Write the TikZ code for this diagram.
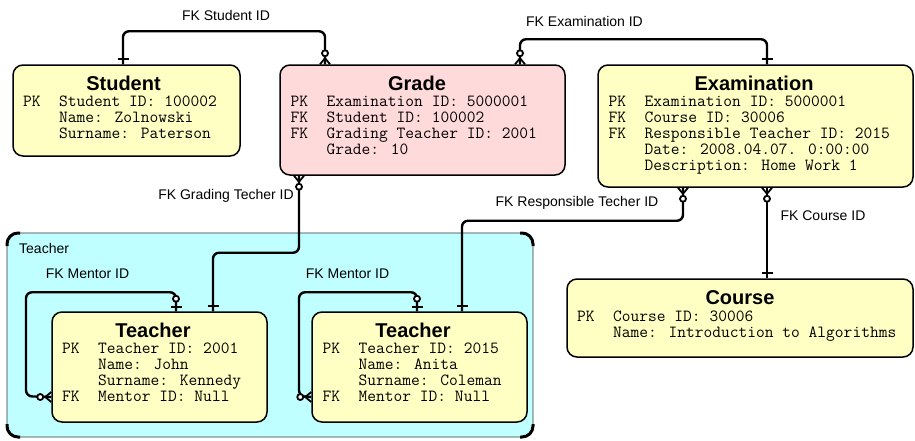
\documentclass[tikz,border=0pt]{standalone}
\usepackage{fontspec}
\setmainfont{Liberation Sans}
\usetikzlibrary{calc}

\definecolor{entyellow}{RGB}{255,255,196}
\definecolor{entpink}{RGB}{255,218,218}
\definecolor{grpcyan}{RGB}{192,255,255}

% fixed-width key column (PK / FK / blank)
\newcommand\keycol[1]{\makebox[36pt][l]{#1}}
% attribute block: first baseline is the block's baseline
\newcommand\attrs[1]{\begin{tabular}[t]{@{}l@{}}#1\end{tabular}}

\tikzset{
  entity/.style={draw, line width=1.5pt, rounded corners=10pt, inner sep=0pt},
  etitle/.style={anchor=base, inner sep=0pt, font=\fontsize{20}{22}\selectfont\bfseries},
  eattr/.style={anchor=base west, inner sep=0pt, font=\ttfamily\fontsize{17}{16}\selectfont},
  rellabel/.style={inner sep=0pt, font=\fontsize{14}{16}\selectfont},
  conn/.style={line width=2.4pt, rounded corners=6pt},
  cardmark/.style={line width=1.8pt},
  pics/onebar/.style={code={
    \draw[cardmark] (5,-5.5) -- (5,5.5);
  }},
  pics/zeromany/.style={code={
    \draw[cardmark] (0,-5) -- (6,0) -- (0,5);
    \draw[cardmark] (0,0) -- (6,0);
    \draw[cardmark, fill=white] (11,0) circle (3pt);
  }},
  pics/zeroone/.style={code={
    \draw[cardmark] (4,-5.5) -- (4,5.5);
    \draw[cardmark, fill=white] (12.5,0) circle (3pt);
  }},
}

\begin{document}
\begin{tikzpicture}[x=1pt, y=-1pt]
\useasboundingbox (0,0) rectangle (915,440);

% Teacher group frame with heavy corner marks
\node[draw=black!80, line width=0.8pt, fill=grpcyan, rounded corners=11pt,
      minimum width=526pt, minimum height=204pt, inner sep=0pt] (group) at (270,335) {};
\draw[line width=3pt, rounded corners=11pt] (7,246) -- (7,233) -- (20,233);
\draw[line width=3pt, rounded corners=11pt] (520,233) -- (533,233) -- (533,246);
\draw[line width=3pt, rounded corners=11pt] (7,424) -- (7,437) -- (20,437);
\draw[line width=3pt, rounded corners=11pt] (520,437) -- (533,437) -- (533,424);
\node[rellabel, anchor=west] (grouplabel) at (19,248) {Teacher};

% Entities
\node[entity, fill=entyellow, minimum width=227pt, minimum height=91pt] (student) at (126.5,110.5) {};
\node[entity, fill=entpink, minimum width=285pt, minimum height=110pt] (grade) at (422.5,120) {};
\node[entity, fill=entyellow, minimum width=315pt, minimum height=122pt] (exam) at (755.5,126) {};
\node[entity, fill=entyellow, minimum width=215pt, minimum height=110pt] (teacherA) at (159.5,367) {};
\node[entity, fill=entyellow, minimum width=215pt, minimum height=110pt] (teacherB) at (419.5,367) {};
\node[entity, fill=entyellow, minimum width=346pt, minimum height=78pt] (course) at (740,318) {};

% Entity titles
\node[etitle] (studentT) at (123.5,90.5) {Student};
\node[etitle] (gradeT) at (417,90.5) {Grade};
\node[etitle] (examT) at (754,90.5) {Examination};
\node[etitle] (teacherAT) at (153,337.5) {Teacher};
\node[etitle] (teacherBT) at (413,337.5) {Teacher};
\node[etitle] (courseT) at (740,304.5) {Course};

% Entity attributes
\node[eattr] (studentA) at (23,106) {\attrs{%
  \keycol{PK}Student ID: 100002\\
  \keycol{}Name: Zolnowski\\
  \keycol{}Surname: Paterson}};
\node[eattr] (gradeA) at (290.5,106) {\attrs{%
  \keycol{PK}Examination ID: 5000001\\
  \keycol{FK}Student ID: 100002\\
  \keycol{FK}Grading Teacher ID: 2001\\
  \keycol{}Grade: 10}};
\node[eattr] (examA) at (608.5,106) {\attrs{%
  \keycol{PK}Examination ID: 5000001\\
  \keycol{FK}Course ID: 30006\\
  \keycol{FK}Responsible Teacher ID: 2015\\
  \keycol{}Date: 2008.04.07. 0:00:00\\
  \keycol{}Description: Home Work 1}};
\node[eattr] (teacherAA) at (62,353) {\attrs{%
  \keycol{PK}Teacher ID: 2001\\
  \keycol{}Name: John\\
  \keycol{}Surname: Kennedy\\
  \keycol{FK}Mentor ID: Null}};
\node[eattr] (teacherBA) at (322.5,353) {\attrs{%
  \keycol{PK}Teacher ID: 2015\\
  \keycol{}Name: Anita\\
  \keycol{}Surname: Coleman\\
  \keycol{FK}Mentor ID: Null}};
\node[eattr] (courseA) at (577,321) {\attrs{%
  \keycol{PK}Course ID: 30006\\
  \keycol{}Name: Introduction to Algorithms}};

% Relationships
\draw[conn] ($(student.north)+(-3.5,0)$) -- ++(0,-33) -| ($(grade.north)+(-97.5,0)$);
\draw[conn] ($(grade.north)+(97.5,0)$) -- ++(0,-25) -| ($(exam.north)+(11.5,0)$);
\draw[conn] ($(grade.south)+(-123.5,0)$) -- ++(0,77) -| ($(teacherA.north)+(53.5,0)$);
\draw[conn] ($(exam.south)+(-72.5,0)$) -- ++(0,33) -| ($(teacherB.north)+(42.5,0)$);
\draw[conn] ($(exam.south)+(11.5,0)$) -- ($(course.north)+(27,0)$);
\draw[conn] ($(teacherA.north)+(16.5,0)$) -- ++(0,-19) -- ++(-150,0) -- ++(0,104)
  -- ($(teacherA.west)+(0,30)$);
\draw[conn] ($(teacherB.north)+(-2.5,0)$) -- ++(0,-19) -- ++(-118,0) -- ++(0,104)
  -- ($(teacherB.west)+(0,30)$);

% Cardinality marks
\pic[rotate=90] at ($(student.north)+(-3.5,0)$) {onebar};
\pic[rotate=90] at ($(grade.north)+(-97.5,0)$) {zeromany};
\pic[rotate=90] at ($(grade.north)+(97.5,0)$) {zeromany};
\pic[rotate=90] at ($(exam.north)+(11.5,0)$) {onebar};
\pic[rotate=-90] at ($(grade.south)+(-123.5,0)$) {zeromany};
\pic[rotate=90] at ($(teacherA.north)+(53.5,0)$) {onebar};
\pic[rotate=-90] at ($(exam.south)+(-72.5,0)$) {zeromany};
\pic[rotate=90] at ($(teacherB.north)+(42.5,0)$) {onebar};
\pic[rotate=-90] at ($(exam.south)+(11.5,0)$) {zeromany};
\pic[rotate=90] at ($(course.north)+(27,0)$) {onebar};
\pic[rotate=90] at ($(teacherA.north)+(16.5,0)$) {zeroone};
\pic[rotate=180] at ($(teacherA.west)+(0,30)$) {zeromany};
\pic[rotate=90] at ($(teacherB.north)+(-2.5,0)$) {zeroone};
\pic[rotate=180] at ($(teacherB.west)+(0,30)$) {zeromany};

% Relationship labels
\node[rellabel] (lblStudent) at (226,15) {FK Student ID};
\node[rellabel] (lblExam) at (584.5,21) {FK Examination ID};
\node[rellabel] (lblGrading) at (226,196) {FK Grading Techer ID};
\node[rellabel] (lblResp) at (577,203) {FK Responsible Techer ID};
\node[rellabel] (lblCourse) at (823,216) {FK Course ID};
\node[rellabel] (lblMentorA) at (87.5,274) {FK Mentor ID};
\node[rellabel] (lblMentorB) at (347.5,274) {FK Mentor ID};
\end{tikzpicture}
\end{document}
